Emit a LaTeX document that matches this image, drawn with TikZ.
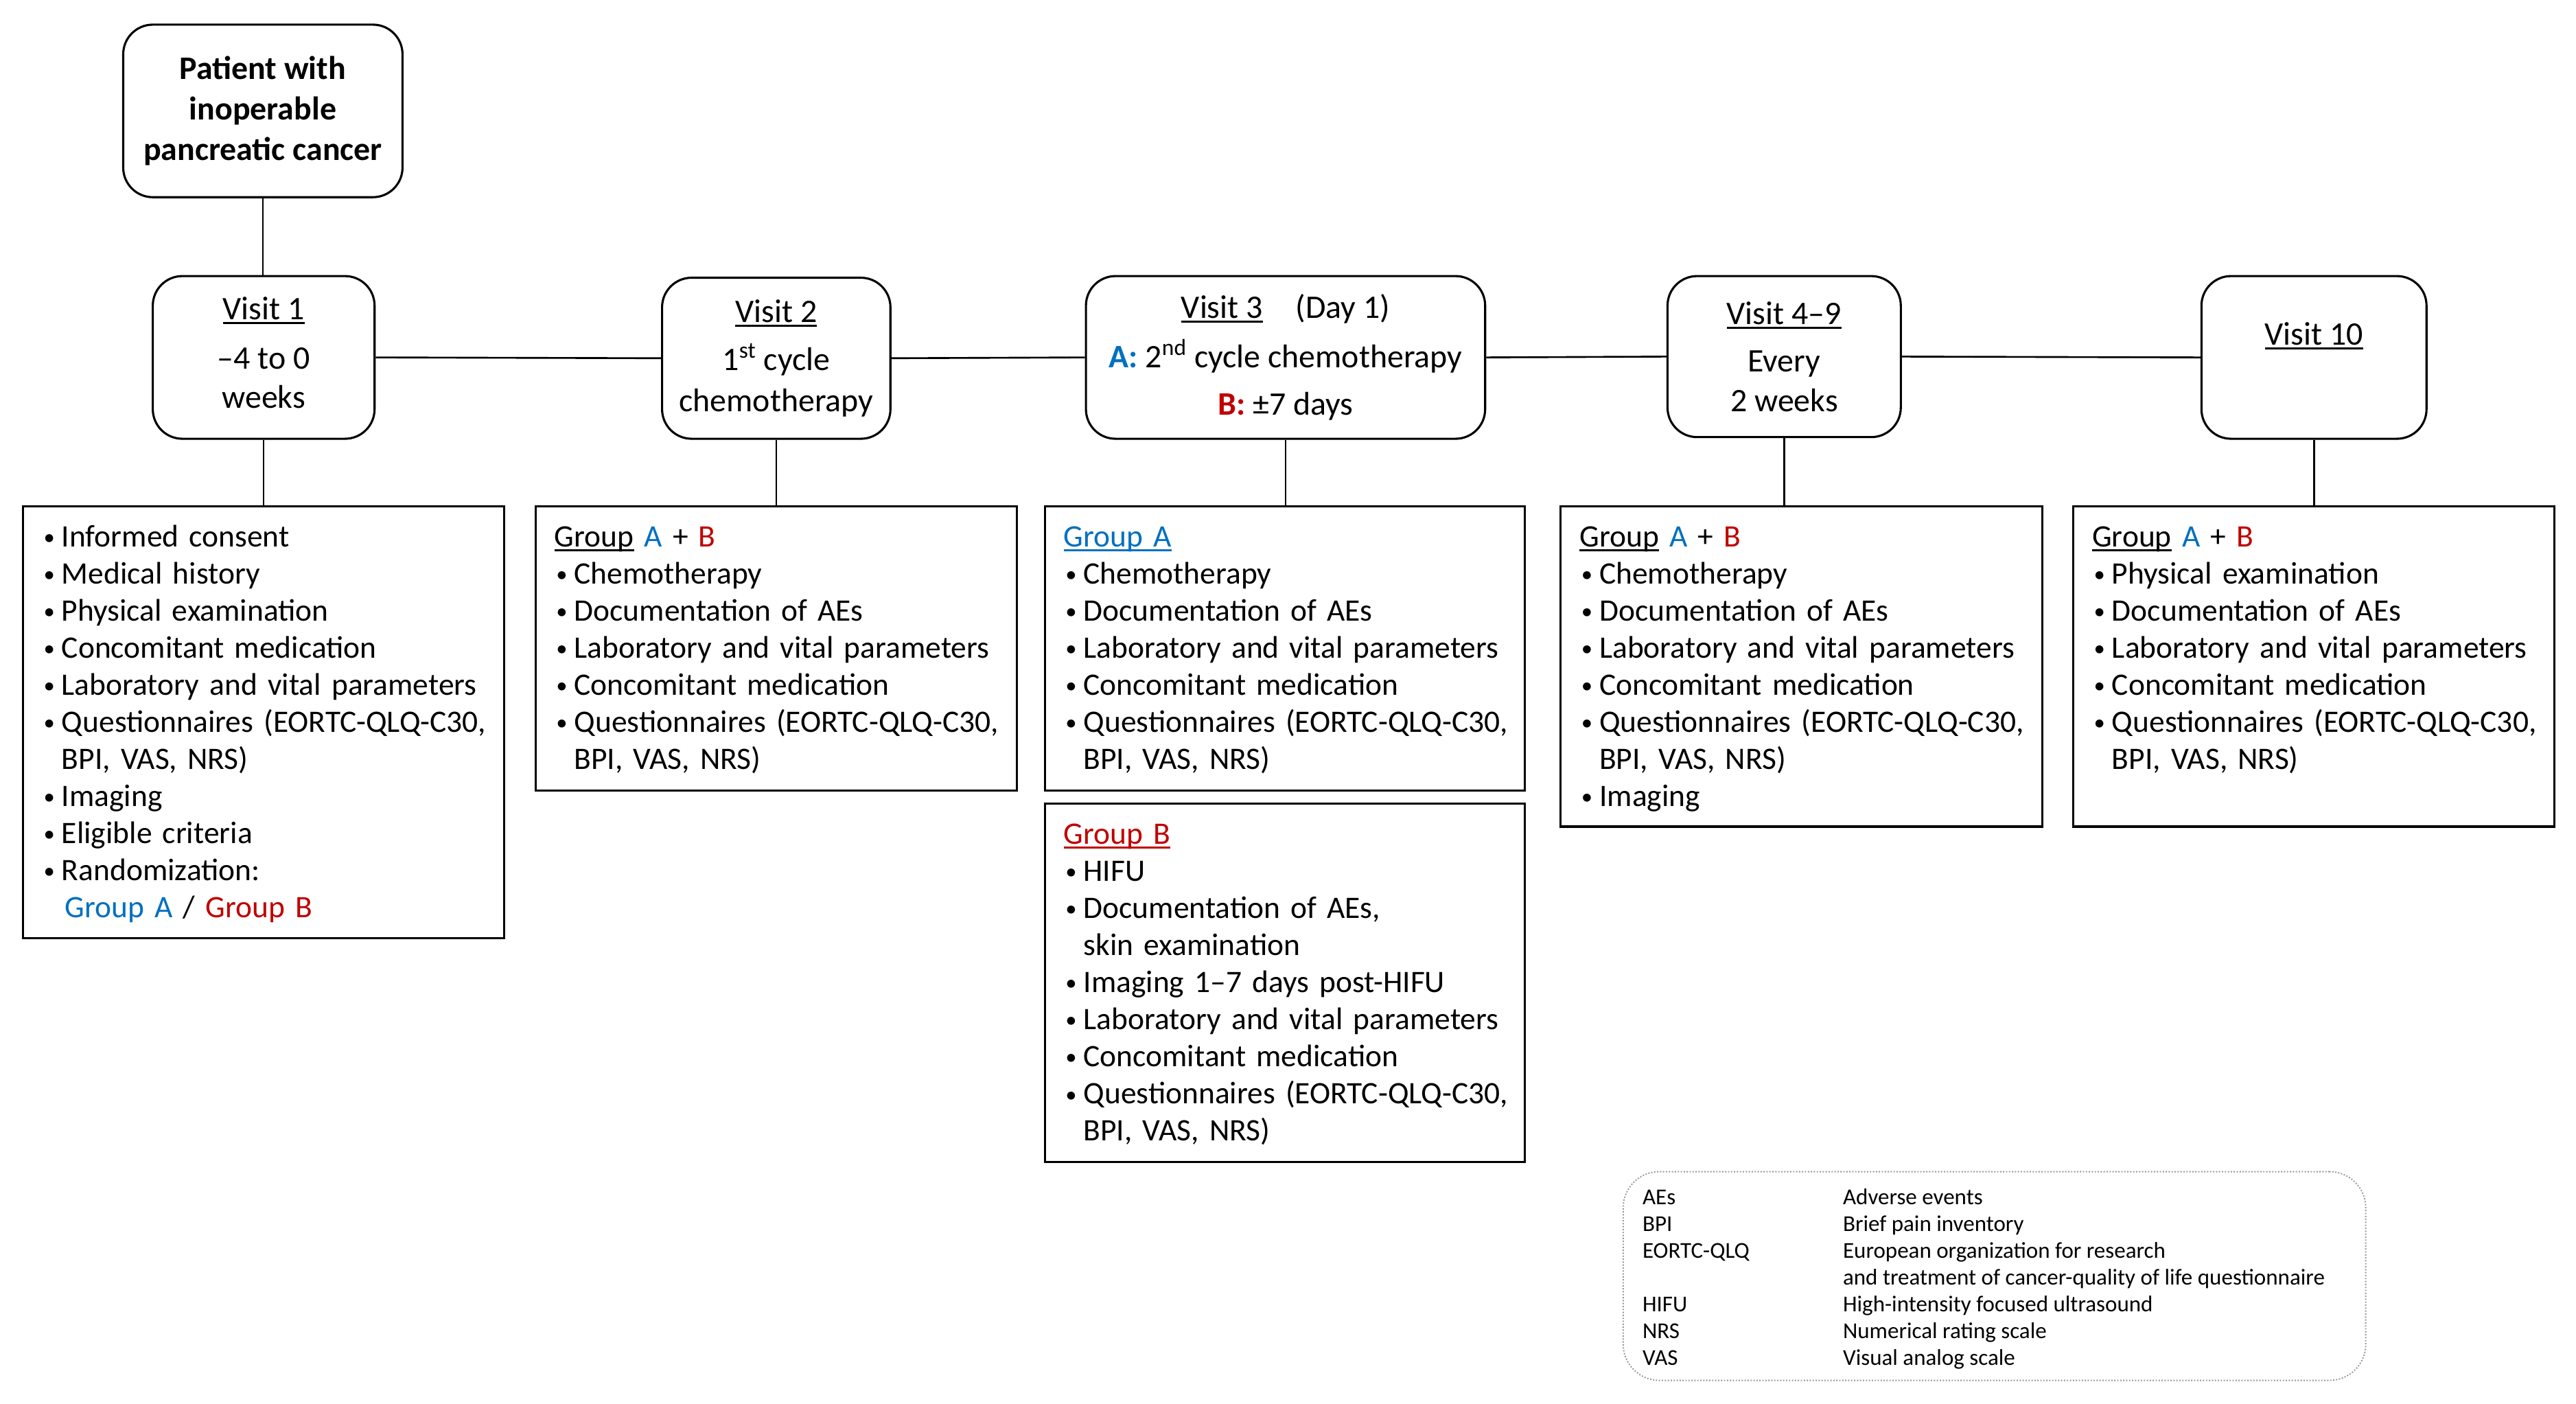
\documentclass[tikz,border=0pt]{standalone}
\usepackage{fontspec}
\setmainfont{Carlito}
\usetikzlibrary{calc}
\definecolor{grpA}{RGB}{0,112,192}
\definecolor{grpB}{RGB}{192,0,0}
\definecolor{leggray}{RGB}{150,150,150}
\newcommand\bodyfont{\fontsize{19}{22.6}\selectfont}
\newcommand\visitfont{\fontsize{20}{24}\selectfont}
\newcommand\patfont{\fontsize{20}{24.5}\selectfont\bfseries}
\newcommand\legfont{\fontsize{13.8}{16.3}\selectfont}
\newcommand\myul[1]{\leavevmode\setbox0\hbox{#1}\rlap{\rule[-2.8pt]{\wd0}{1.3pt}}\box0\relax}
\newcommand\bl{\hspace*{1pt}\makebox[11pt][l]{\raisebox{1.2pt}{\scalebox{0.72}{•}}}}
\newcommand\ind{\hspace*{12pt}}
\begin{document}
\begin{tikzpicture}[x=1pt,y=-1pt,
  visit/.style={draw, line width=1.3pt, rounded corners=18pt, align=center, font=\visitfont, inner sep=0pt},
  listbox/.style={draw, line width=1.3pt, inner sep=0pt},
  listtext/.style={anchor=north west, inner sep=0pt, align=left, font=\bodyfont, text width=280pt},
  conn/.style={line width=1.1pt}]
\useasboundingbox (0,0) rectangle (1568,854);
\fill[white] (0,0) rectangle (1568,854);

% top and visit boxes
\node[visit, minimum width=170pt, minimum height=105pt, font=\patfont] (pat) at (160,67.5) {Patient with\\inoperable\\pancreatic cancer};
\node[visit, minimum width=135pt, minimum height=99pt] (v1) at (160.5,217.5) {\myul{Visit 1}\\[6pt]–4 to 0\\weeks\\[-18pt]\mbox{}};
\node[visit, minimum width=139pt, minimum height=98pt] (v2) at (472.5,218) {\myul{Visit 2}\\[5pt]1\textsuperscript{st} cycle\\[1pt]chemotherapy};
\node[visit, minimum width=243pt, minimum height=99pt] (v3) at (782.5,217.5) {\myul{Visit 3}\quad(Day 1)\\[6pt]{\color{grpA}\bfseries A:} 2\textsuperscript{nd} cycle chemotherapy\\[5pt]{\color{grpB}\bfseries B:} ±7 days};
\node[visit, minimum width=142pt, minimum height=98pt] (v4) at (1086,217) {\myul{Visit 4–9}\\[5pt]Every\\2 weeks};
\node[visit, minimum width=137pt, minimum height=99pt] (v10) at (1408.5,217.5) {\myul{Visit 10}\\[-2pt]\strut};

% list boxes
\node[listbox, minimum width=293pt, minimum height=263pt] (l1) at (160.5,439.5) {};
\node[listbox, minimum width=293pt, minimum height=173pt] (l2) at (472.5,394.5) {};
\node[listbox, minimum width=292pt, minimum height=173pt] (l3a) at (782,394.5) {};
\node[listbox, minimum width=292pt, minimum height=218pt] (l3b) at (782,598) {};
\node[listbox, minimum width=293pt, minimum height=195pt] (l4) at (1096.5,405.5) {};
\node[listbox, minimum width=293pt, minimum height=195pt] (l5) at (1408.5,405.5) {};

% connectors
\draw[conn] (pat.south) -- (pat.south |- v1.north);
\draw[conn] (v1.east) -- (v2.west);
\draw[conn] (v2.east) -- (v3.west);
\draw[conn] (v3.east) -- (v4.west);
\draw[conn] (v4.east) -- (v10.west);
\draw[conn] (v1.south) -- (v1.south |- l1.north);
\draw[conn] (v2.south) -- (v2.south |- l2.north);
\draw[conn] (v3.south) -- (v3.south |- l3a.north);
\draw[conn] (v4.south) -- (v4.south |- l4.north);
\draw[conn] (v10.south) -- (v10.south |- l5.north);

% list texts
\node[listtext] (t1) at ([xshift=12pt,yshift=-9.2pt]l1.north west) {\strut\bl Informed consent\\
\bl Medical history\\
\bl Physical examination\\
\bl Concomitant medication\\
\bl Laboratory and vital parameters\\
\bl Questionnaires (EORTC-QLQ-C30,\\
\ind BPI, VAS, NRS)\\
\bl Imaging\\
\bl Eligible criteria\\
\bl Randomization:\\
\ind\hspace*{2pt}{\color{grpA}Group A} / {\color{grpB}Group B}};

\node[listtext] (t2) at ([xshift=12pt,yshift=-9.2pt]l2.north west) {\strut\myul{Group} {\color{grpA}A} + {\color{grpB}B}\\
\bl Chemotherapy\\
\bl Documentation of AEs\\
\bl Laboratory and vital parameters\\
\bl Concomitant medication\\
\bl Questionnaires (EORTC-QLQ-C30,\\
\ind BPI, VAS, NRS)};

\node[listtext] (t3a) at ([xshift=12pt,yshift=-9.2pt]l3a.north west) {\strut{\color{grpA}\myul{Group A}}\\
\bl Chemotherapy\\
\bl Documentation of AEs\\
\bl Laboratory and vital parameters\\
\bl Concomitant medication\\
\bl Questionnaires (EORTC-QLQ-C30,\\
\ind BPI, VAS, NRS)};

\node[listtext] (t3b) at ([xshift=12pt,yshift=-9.2pt]l3b.north west) {\strut{\color{grpB}\myul{Group B}}\\
\bl HIFU\\
\bl Documentation of AEs,\\
\ind skin examination\\
\bl Imaging 1–7 days post-HIFU\\
\bl Laboratory and vital parameters\\
\bl Concomitant medication\\
\bl Questionnaires (EORTC-QLQ-C30,\\
\ind BPI, VAS, NRS)};

\node[listtext] (t4) at ([xshift=12pt,yshift=-9.2pt]l4.north west) {\strut\myul{Group} {\color{grpA}A} + {\color{grpB}B}\\
\bl Chemotherapy\\
\bl Documentation of AEs\\
\bl Laboratory and vital parameters\\
\bl Concomitant medication\\
\bl Questionnaires (EORTC-QLQ-C30,\\
\ind BPI, VAS, NRS)\\
\bl Imaging};

\node[listtext] (t5) at ([xshift=12pt,yshift=-9.2pt]l5.north west) {\strut\myul{Group} {\color{grpA}A} + {\color{grpB}B}\\
\bl Physical examination\\
\bl Documentation of AEs\\
\bl Laboratory and vital parameters\\
\bl Concomitant medication\\
\bl Questionnaires (EORTC-QLQ-C30,\\
\ind BPI, VAS, NRS)};

% legend
\node[draw=leggray, densely dotted, line width=0.8pt, rounded corners=22pt, minimum width=452pt, minimum height=127pt, inner sep=0pt] (leg) at (1214,776.5) {};
\node[anchor=north west, inner sep=0pt, font=\legfont] (legt) at ([xshift=12pt,yshift=-8.6pt]leg.north west) {\begin{tabular}{@{}p{122pt}@{}l@{}}
AEs & Adverse events\\
BPI & Brief pain inventory\\
EORTC-QLQ & European organization for research\\
 & and treatment of cancer-quality of life questionnaire\\
HIFU & High-intensity focused ultrasound\\
NRS & Numerical rating scale\\
VAS & Visual analog scale
\end{tabular}};
\end{tikzpicture}
\end{document}
